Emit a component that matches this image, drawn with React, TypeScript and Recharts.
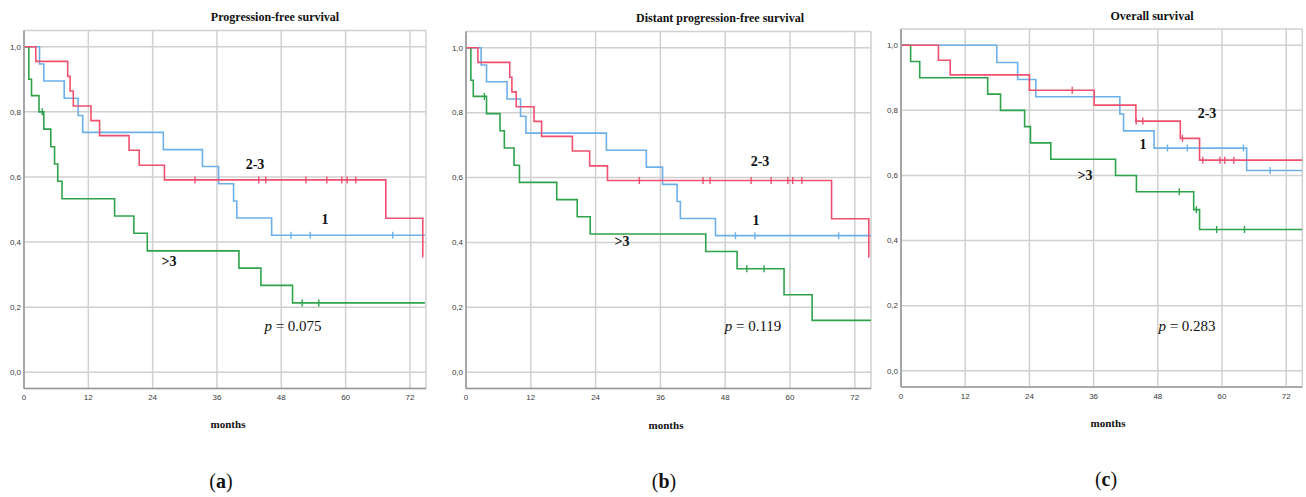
import React from "react";
import {
  ComposedChart,
  Line,
  Scatter,
  XAxis,
  YAxis,
  CartesianGrid,
} from "recharts";

type Pt = { t: number; s: number };

const monthTicks = [0, 12, 24, 36, 48, 60, 72];
const survTicks = [0, 0.2, 0.4, 0.6, 0.8, 1.0];

// (a) Progression-free survival
const pfsOne: Pt[] = [
  { t: 0, s: 1 }, { t: 2.9, s: 0.947 }, { t: 3.7, s: 0.895 }, { t: 7.5, s: 0.842 },
  { t: 10.1, s: 0.789 }, { t: 10.95, s: 0.737 }, { t: 26, s: 0.684 }, { t: 33.3, s: 0.632 },
  { t: 36.3, s: 0.579 }, { t: 39.1, s: 0.526 }, { t: 39.7, s: 0.474 }, { t: 46.2, s: 0.421 },
  { t: 74.8, s: 0.421 },
];
const pfsOneCens = [49.8, 53.4, 68.8];
const pfsTwo: Pt[] = [
  { t: 0, s: 1 }, { t: 2.2, s: 0.955 }, { t: 8.15, s: 0.909 }, { t: 8.6, s: 0.864 },
  { t: 9.2, s: 0.818 }, { t: 12.5, s: 0.773 }, { t: 14.1, s: 0.727 }, { t: 19.6, s: 0.682 },
  { t: 21.5, s: 0.636 }, { t: 26.2, s: 0.591 }, { t: 67.5, s: 0.473 }, { t: 74.4, s: 0.355 },
  { t: 74.5, s: 0.355 },
];
const pfsTwoCens = [31.9, 43.8, 45.1, 52.6, 56.5, 59.3, 60.3, 61.9];
const pfsThree: Pt[] = [
  { t: 0, s: 1 }, { t: 0.9, s: 0.9 }, { t: 1.4, s: 0.85 }, { t: 2.8, s: 0.8 },
  { t: 3.7, s: 0.747 }, { t: 5.0, s: 0.693 }, { t: 5.7, s: 0.64 }, { t: 6.3, s: 0.587 },
  { t: 7.1, s: 0.533 }, { t: 16.9, s: 0.48 }, { t: 20.5, s: 0.427 }, { t: 23, s: 0.373 },
  { t: 40.1, s: 0.32 }, { t: 44.2, s: 0.267 }, { t: 50.1, s: 0.213 }, { t: 74.8, s: 0.213 },
];
const pfsThreeCens = [3.4, 51.9, 55];

// (b) Distant progression-free survival
const dpfsOne: Pt[] = [
  { t: 0, s: 1 }, { t: 2.8, s: 0.947 }, { t: 3.8, s: 0.895 }, { t: 7.6, s: 0.842 },
  { t: 10.1, s: 0.789 }, { t: 11.1, s: 0.737 }, { t: 26, s: 0.684 }, { t: 33.4, s: 0.632 },
  { t: 36.4, s: 0.579 }, { t: 39.1, s: 0.526 }, { t: 39.7, s: 0.474 }, { t: 46.2, s: 0.421 },
  { t: 75, s: 0.421 },
];
const dpfsOneCens = [49.9, 53.5, 69];
const dpfsTwo: Pt[] = [
  { t: 0, s: 1 }, { t: 2.2, s: 0.955 }, { t: 8.1, s: 0.909 }, { t: 8.5, s: 0.864 },
  { t: 9.3, s: 0.818 }, { t: 12.6, s: 0.773 }, { t: 14, s: 0.727 }, { t: 19.7, s: 0.682 },
  { t: 22.9, s: 0.636 }, { t: 26.2, s: 0.591 }, { t: 67.7, s: 0.473 }, { t: 74.6, s: 0.355 },
  { t: 74.7, s: 0.355 },
];
const dpfsTwoCens = [32.1, 43.9, 45.2, 52.8, 56.5, 59.6, 60.5, 62.2];
const dpfsThree: Pt[] = [
  { t: 0, s: 1 }, { t: 0.9, s: 0.9 }, { t: 1.35, s: 0.85 }, { t: 3.8, s: 0.797 },
  { t: 6.3, s: 0.744 }, { t: 7.1, s: 0.691 }, { t: 8.9, s: 0.638 }, { t: 9.9, s: 0.585 },
  { t: 16.8, s: 0.532 }, { t: 20.6, s: 0.479 }, { t: 23, s: 0.426 }, { t: 44.4, s: 0.372 },
  { t: 50.2, s: 0.319 }, { t: 58.9, s: 0.239 }, { t: 64.1, s: 0.16 }, { t: 75, s: 0.16 },
];
const dpfsThreeCens = [3.4, 52, 55.2];

// (c) Overall survival
const osOne: Pt[] = [
  { t: 0, s: 1 }, { t: 17.9, s: 0.947 }, { t: 21.8, s: 0.895 }, { t: 25.2, s: 0.842 },
  { t: 40.9, s: 0.789 }, { t: 41.6, s: 0.737 }, { t: 47.3, s: 0.684 }, { t: 64.6, s: 0.615 },
  { t: 75, s: 0.615 },
];
const osOneCens = [49.8, 53.5, 64.0, 69];
const osTwo: Pt[] = [
  { t: 0, s: 1 }, { t: 7.0, s: 0.954 }, { t: 9.2, s: 0.909 }, { t: 24.0, s: 0.862 },
  { t: 36.1, s: 0.816 }, { t: 43.9, s: 0.767 }, { t: 52.2, s: 0.714 }, { t: 55.8, s: 0.647 },
  { t: 75, s: 0.647 },
];
const osTwoCens = [32, 43.95, 45.2, 52.6, 56.4, 59.6, 60.5, 62.2];
const osThree: Pt[] = [
  { t: 0, s: 1 }, { t: 1.8, s: 0.95 }, { t: 3.5, s: 0.9 }, { t: 16.2, s: 0.85 },
  { t: 18.6, s: 0.8 }, { t: 23.1, s: 0.75 }, { t: 24.2, s: 0.7 }, { t: 28.0, s: 0.65 },
  { t: 40.1, s: 0.6 }, { t: 44.0, s: 0.55 }, { t: 54.7, s: 0.495 }, { t: 55.8, s: 0.434 },
  { t: 75, s: 0.434 },
];
const osThreeCens = [52, 55.2, 59, 64.2];

const RED = "#f0506e";
const BLUE = "#6cb0ea";
const GREEN = "#2fa34c";

const survAt = (curve: Pt[], t: number) => {
  let s = curve[0].s;
  for (const p of curve) if (p.t <= t) s = p.s;
  return s;
};

const cens = (curve: Pt[], times: number[]) =>
  times.map((t) => ({ t, s: survAt(curve, t) }));

const Tick = (color: string) => (props: any) => {
  const { cx, cy } = props;
  if (cx == null || cy == null) return <g />;
  return (
    <g>
      <line x1={cx} x2={cx} y1={cy - 3.5} y2={cy + 3.5} stroke={color} strokeWidth={1.4} />
    </g>
  );
};

type PanelProps = {
  left: number;
  right: number;
  top: number;
  bottom: number;
  series: { curve: Pt[]; censored: number[]; color: string }[];
};

function Panel({ left, right, top, bottom, series }: PanelProps) {
  const yW = 24;
  const xH = 30;
  const width = right - left + yW + 2;
  const height = bottom + xH;
  const tickStyle = {
    fontSize: 8,
    fill: "#3a3a3a",
    fontFamily: "'Liberation Sans Narrow', 'Liberation Sans', Arial, sans-serif",
  };
  return (
    <div style={{ position: "absolute", left: left - yW, top: 0 }}>
      <ComposedChart
        width={width}
        height={height}
        margin={{ top, right: 2, bottom: 0, left: 0 }}
      >
        <CartesianGrid stroke="#d0d0d0" strokeWidth={1.5} />
        <XAxis
          type="number"
          dataKey="t"
          domain={[0, 75]}
          ticks={monthTicks}
          allowDataOverflow
          height={xH}
          tickLine={false}
          tickSize={4}
          tickMargin={2}
          axisLine={{ stroke: "#999", strokeWidth: 1.6 }}
          tick={tickStyle}
        />
        <YAxis
          type="number"
          dataKey="s"
          domain={[-0.05, 1.05]}
          ticks={survTicks}
          allowDataOverflow
          width={yW}
          tickLine={false}
          tickSize={3}
          tickMargin={0}
          axisLine={{ stroke: "#999", strokeWidth: 1.6 }}
          tick={tickStyle}
          tickFormatter={(v: number) => v.toFixed(1).replace(".", ",")}
        />
        {series.map((sr, i) => (
          <Line
            key={"l" + i}
            data={sr.curve}
            dataKey="s"
            type="stepAfter"
            stroke={sr.color}
            strokeWidth={1.6}
            dot={false}
            activeDot={false}
            isAnimationActive={false}
          />
        ))}
        {series.map((sr, i) => (
          <Scatter
            key={"c" + i}
            data={cens(sr.curve, sr.censored)}
            dataKey="s"
            shape={Tick(sr.color)}
            isAnimationActive={false}
          />
        ))}
      </ComposedChart>
    </div>
  );
}

const serif = "'Liberation Serif', 'Times New Roman', serif";

const Txt = ({
  x,
  y,
  size,
  bold,
  children,
}: {
  x: number;
  y: number;
  size: number;
  bold?: boolean;
  children: React.ReactNode;
}) => (
  <div
    style={{
      position: "absolute",
      left: x,
      top: y,
      transform: "translate(-50%, -50%)",
      fontFamily: serif,
      fontSize: size,
      fontWeight: bold ? "bold" : "normal",
      color: "#111",
      whiteSpace: "nowrap",
      lineHeight: 1,
    }}
  >
    {children}
  </div>
);

export default function App() {
  return (
    <div
      style={{
        position: "absolute",
        left: 0,
        top: 0,
        width: 1306,
        height: 497,
        background: "#fff",
        overflow: "hidden",
      }}
    >
      <Panel
        left={24}
        right={426}
        top={30.5}
        bottom={388.5}
        series={[
          { curve: pfsOne, censored: pfsOneCens, color: BLUE },
          { curve: pfsThree, censored: pfsThreeCens, color: GREEN },
          { curve: pfsTwo, censored: pfsTwoCens, color: RED },
        ]}
      />
      <Panel
        left={466}
        right={871}
        top={31.5}
        bottom={388.5}
        series={[
          { curve: dpfsOne, censored: dpfsOneCens, color: BLUE },
          { curve: dpfsThree, censored: dpfsThreeCens, color: GREEN },
          { curve: dpfsTwo, censored: dpfsTwoCens, color: RED },
        ]}
      />
      <Panel
        left={900.7}
        right={1302}
        top={29}
        bottom={387}
        series={[
          { curve: osOne, censored: osOneCens, color: BLUE },
          { curve: osThree, censored: osThreeCens, color: GREEN },
          { curve: osTwo, censored: osTwoCens, color: RED },
        ]}
      />

      <Txt x={275} y={17} size={12} bold>Progression-free survival</Txt>
      <Txt x={720} y={18} size={12} bold>Distant progression-free survival</Txt>
      <Txt x={1152} y={16} size={12} bold>Overall survival</Txt>

      <Txt x={255} y={165} size={14} bold>2-3</Txt>
      <Txt x={325} y={220} size={14} bold>1</Txt>
      <Txt x={169} y={262} size={14} bold>&gt;3</Txt>
      <Txt x={293} y={326} size={15}><i>p</i> = 0.075</Txt>

      <Txt x={760} y={162} size={14} bold>2-3</Txt>
      <Txt x={756} y={221} size={14} bold>1</Txt>
      <Txt x={622} y={242} size={14} bold>&gt;3</Txt>
      <Txt x={753} y={326} size={15}><i>p</i> = 0.119</Txt>

      <Txt x={1207} y={114} size={14} bold>2-3</Txt>
      <Txt x={1143} y={145} size={14} bold>1</Txt>
      <Txt x={1085} y={176} size={14} bold>&gt;3</Txt>
      <Txt x={1187} y={326} size={15}><i>p</i> = 0.283</Txt>

      <Txt x={228} y={424} size={11} bold>months</Txt>
      <Txt x={666} y={425} size={11} bold>months</Txt>
      <Txt x={1108} y={423} size={11} bold>months</Txt>

      <Txt x={221} y={481} size={20}>(<b>a</b>)</Txt>
      <Txt x={664} y={481} size={20}>(<b>b</b>)</Txt>
      <Txt x={1106} y={479} size={20}>(<b>c</b>)</Txt>
    </div>
  );
}
